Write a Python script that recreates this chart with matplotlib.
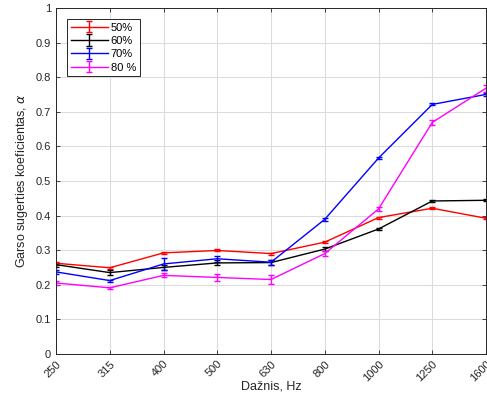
import numpy as np
import matplotlib.pyplot as plt

plt.rcParams['font.family'] = ['Liberation Sans', 'DejaVu Sans']

freqs = ['250', '315', '400', '500', '630', '800', '1000', '1250', '1600']

a50 = [0.262, 0.249, 0.292, 0.299, 0.290, 0.323, 0.394, 0.421, 0.392]
a60 = [0.258, 0.235, 0.250, 0.263, 0.264, 0.303, 0.361, 0.442, 0.444]
a70 = [0.237, 0.212, 0.260, 0.275, 0.265, 0.389, 0.566, 0.721, 0.750]
a80 = [0.205, 0.191, 0.227, 0.221, 0.215, 0.290, 0.419, 0.669, 0.768]

e50 = [0.004, 0.003, 0.003, 0.003, 0.003, 0.003, 0.003, 0.003, 0.003]
e60 = [0.006, 0.007, 0.008, 0.007, 0.006, 0.005, 0.004, 0.004, 0.003]
e70 = [0.006, 0.003, 0.018, 0.008, 0.007, 0.005, 0.004, 0.003, 0.004]
e80 = [0.006, 0.003, 0.006, 0.010, 0.013, 0.008, 0.007, 0.008, 0.010]

series = [(a50, e50, '#ff0000', '50%'),
          (a60, e60, '#000000', '60%'),
          (a70, e70, '#0000ff', '70%'),
          (a80, e80, '#ff00ff', '80 %')]

fig = plt.figure(figsize=(4.87, 3.95), dpi=100)
ax = fig.add_axes([0.115, 0.104, 0.883, 0.876])

x = np.arange(1, len(freqs) + 1)
for y, e, c, lab in series:
    ax.errorbar(x, y, yerr=e, color=c, lw=1.0, elinewidth=1.0, capsize=2.5, label=lab)

ax.set_xlim(1, 9)
ax.set_ylim(0, 1)
ax.set_xticks(x)
ax.set_xticklabels(freqs, rotation=45, ha='right', rotation_mode='anchor')
ax.set_yticks(np.arange(0, 1.01, 0.1))
ax.set_yticklabels(['0', '0.1', '0.2', '0.3', '0.4', '0.5', '0.6', '0.7', '0.8', '0.9', '1'])
ax.tick_params(direction='in', length=3, labelsize=8, colors='#262626',
               top=True, right=True, width=0.6)
ax.grid(True, color='#dcdcdc', lw=0.8)
ax.set_axisbelow(True)
for s in ax.spines.values():
    s.set_color('#262626')
    s.set_linewidth(0.7)

ax.set_xlabel('Dažnis, Hz', fontsize=9, color='#262626', labelpad=-2)
ax.set_ylabel(r'Garso sugerties koeficientas, $\alpha$', fontsize=9, color='#262626')

leg = ax.legend(loc='upper left', fontsize=8, fancybox=False, framealpha=1,
                edgecolor='#262626', borderpad=0.35, labelspacing=0.3,
                handlelength=3.4, handletextpad=0.2, bbox_to_anchor=(0.012, 0.985))
leg.get_frame().set_linewidth(0.7)

fig.savefig('out.png', dpi=100)
